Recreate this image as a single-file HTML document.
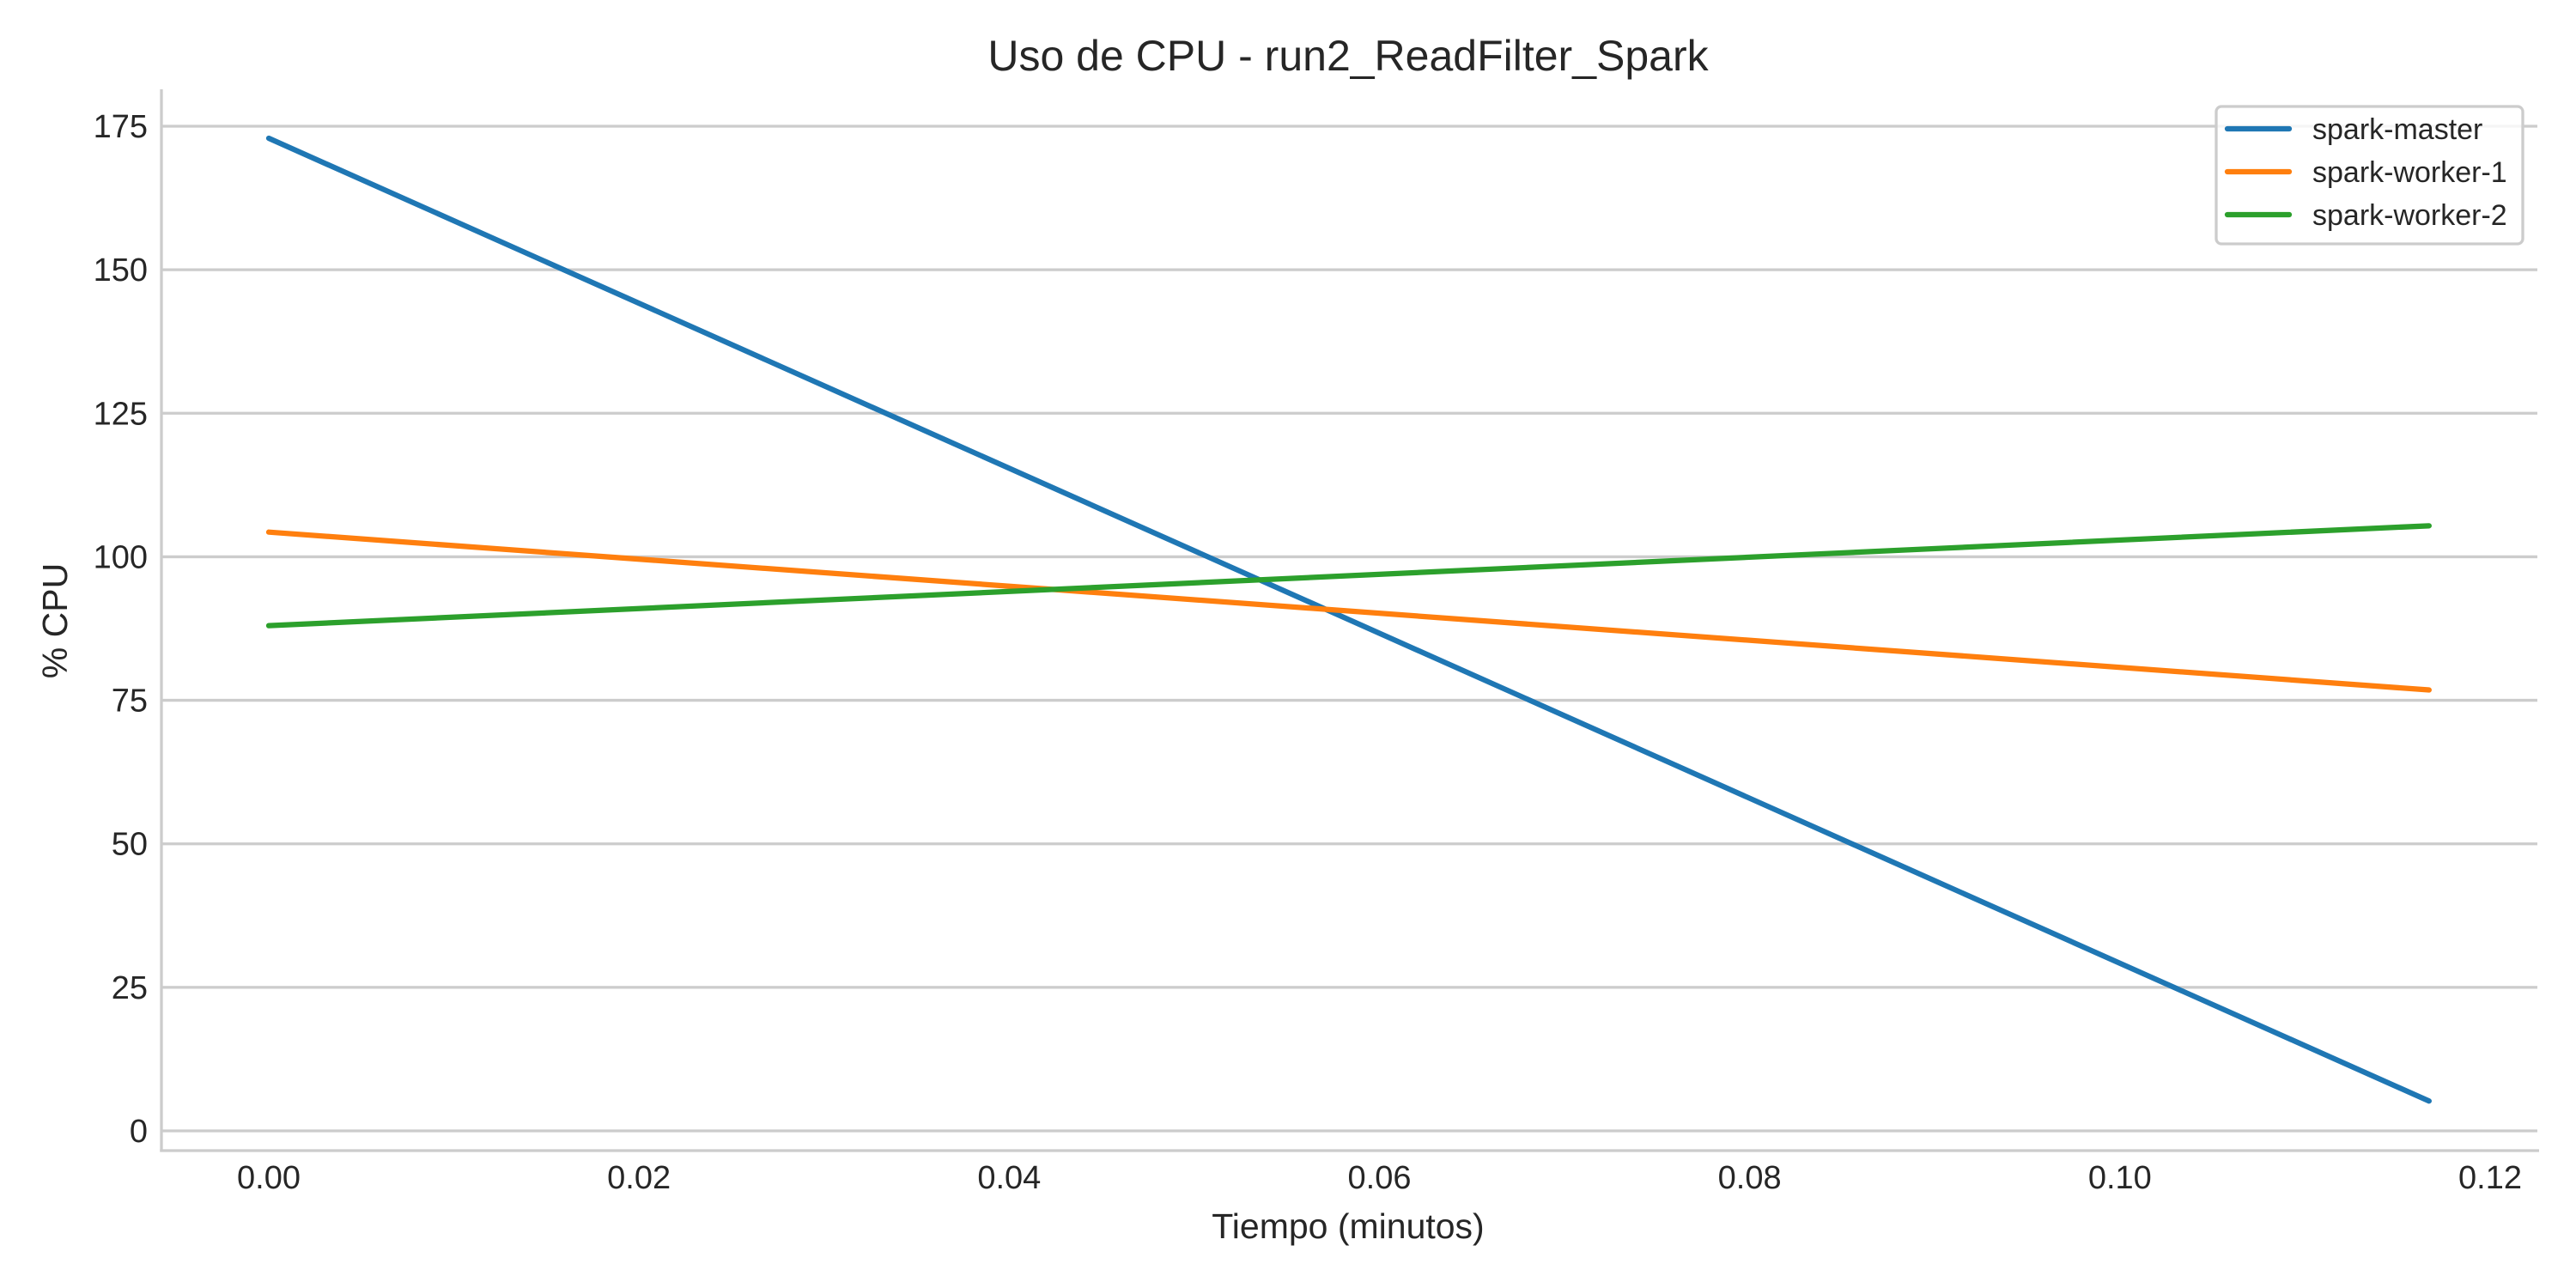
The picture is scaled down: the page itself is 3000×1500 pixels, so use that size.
<!DOCTYPE html>
<html><head><meta charset="utf-8"><style>
html,body{margin:0;padding:0;background:#fff;}
svg{display:block;font-family:"Liberation Sans",Arial,sans-serif;}
</style></head><body>
<svg id="chart" width="3000" height="1500" viewBox="0 0 3000 1500" xmlns="http://www.w3.org/2000/svg">
<rect width="3000" height="1500" fill="#fff"/>
<g id="grid"></g>
<g id="axes"></g>
<g id="series"></g>
<text x="1570" y="82" font-size="50" fill="#262626" text-anchor="middle">Uso de CPU - run2_ReadFilter_Spark</text>
<text x="1570" y="1442" font-size="41" fill="#262626" text-anchor="middle">Tiempo (minutos)</text>
<text transform="translate(78,723) rotate(-90)" font-size="41" fill="#262626" text-anchor="middle">% CPU</text>
<g id="legend"></g>
</svg>
<script>
const seriesNames = ["spark-master","spark-worker-1","spark-worker-2"];
const seriesColors = ["#1f77b4","#ff7f0e","#2ca02c"];
const timeValues = [0.0, 0.1167];
const masterValues = [172.9, 5.2];
const worker1Values = [104.3, 76.8];
const worker2Values = [88.0, 105.4];
const yTicks = [0,25,50,75,100,125,150,175];
const xTicks = [0.00,0.02,0.04,0.06,0.08,0.10,0.12];

const NS="http://www.w3.org/2000/svg";
const X0=313, XS=(2900-313)/0.12;
const Y0=1317, YS=(1317-147)/175;
function xs(v){return X0+v*XS;}
function ys(v){return Y0-v*YS;}
function mk(tag,attrs,parent){const e=document.createElementNS(NS,tag);for(const k in attrs)e.setAttribute(k,attrs[k]);parent.appendChild(e);return e;}
const grid=document.getElementById('grid'), axes=document.getElementById('axes'), ser=document.getElementById('series'), leg=document.getElementById('legend');

yTicks.forEach(t=>{
  const l=mk('line',{x1:188,x2:2955,y1:ys(t),y2:ys(t),stroke:'#cccccc','stroke-width':3.3},grid);
  
  
  const tx=mk('text',{x:172,y:ys(t)+13,'font-size':38,fill:'#262626','text-anchor':'end'},axes);
  tx.textContent=String(t);
  
  
});
xTicks.forEach(t=>{
  const tx=mk('text',{x:xs(t),y:1384,'font-size':38,fill:'#262626','text-anchor':'middle'},axes);
  tx.textContent=t.toFixed(2);
  
  
});
const sl=mk('line',{x1:188,x2:188,y1:104,y2:1341.5,stroke:'#cccccc','stroke-width':3.3},axes);


const sb=mk('line',{x1:186.3,x2:2957,y1:1340,y2:1340,stroke:'#cccccc','stroke-width':3.3},axes);



const allValues=[masterValues,worker1Values,worker2Values];
allValues.forEach((vals,i)=>{
  const pts=vals.map((v,j)=>xs(timeValues[j])+','+ys(v)).join(' ');
  const p=mk('polyline',{points:pts,fill:'none',stroke:seriesColors[i],'stroke-width':6.25,'stroke-linecap':'round','stroke-linejoin':'round'},ser);
  
  
});

const box=mk('rect',{x:2581,y:124,width:357,height:160,rx:6,fill:'#fff','fill-opacity':0.8,stroke:'#cccccc','stroke-width':3.3},leg);


seriesNames.forEach((n,i)=>{
  const y=150+i*50;
  const l=mk('line',{x1:2594,x2:2666,y1:y,y2:y,stroke:seriesColors[i],'stroke-width':6.25,'stroke-linecap':'round'},leg);
  
  
  const t=mk('text',{x:2693,y:y+12,'font-size':34,fill:'#262626'},leg);
  t.textContent=n;
  
  
});
</script>
</body></html>
